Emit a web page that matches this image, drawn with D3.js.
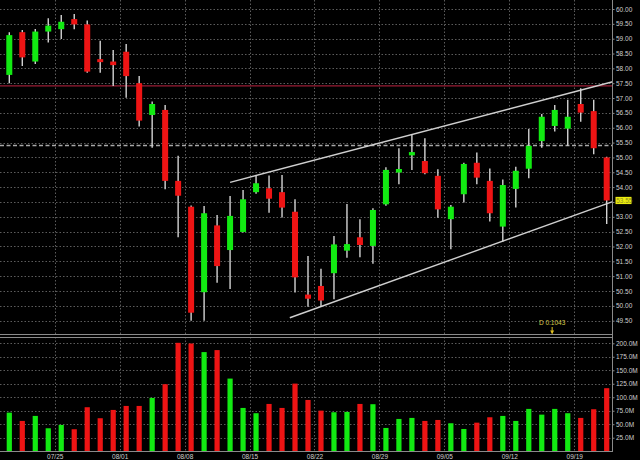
<!DOCTYPE html>
<html><head><meta charset="utf-8">
<script src="https://cdn.jsdelivr.net/npm/d3@7"></script>
<style>html,body{margin:0;padding:0;background:#000;overflow:hidden}svg{display:block}</style>
</head><body>
<svg id="c" width="640" height="460"></svg>
<script>
const openP  = [57.78,59.22,58.23,59.24,59.32,59.66,59.48,58.31,58.23,58.56,57.50,56.43,56.60,54.21,53.34,50.46,52.71,51.88,52.49,53.83,53.96,53.83,53.17,50.38,50.67,51.10,51.86,52.31,52.02,53.42,54.49,55.07,54.88,54.38,52.92,53.76,54.82,54.21,52.67,53.94,54.62,55.55,56.06,55.97,56.80,56.56,55.00];
const highP  = [59.22,59.29,59.33,59.69,59.80,59.83,59.61,58.93,58.62,58.82,57.74,56.88,56.77,55.06,53.38,53.36,53.06,53.70,53.90,54.38,54.39,54.41,53.59,51.68,51.25,52.35,53.43,52.92,53.29,54.67,55.31,55.76,55.65,54.60,53.40,54.82,55.17,54.63,54.26,54.69,55.96,56.46,56.77,56.94,57.33,56.94,55.02];
const lowP   = [57.50,58.08,58.15,58.87,58.99,59.32,57.85,57.85,57.41,57.01,56.04,55.33,53.93,52.31,49.50,49.50,50.78,50.57,52.47,53.78,53.14,52.98,50.45,49.97,49.97,50.22,51.62,51.64,51.42,53.37,54.10,54.58,54.43,52.97,51.91,53.48,54.10,52.84,52.16,53.31,54.30,55.33,55.87,55.39,56.20,55.11,52.76];
const closeP = [59.12,58.37,59.24,59.44,59.57,59.48,57.89,58.21,58.11,57.74,56.24,56.80,54.21,53.71,49.77,53.12,51.34,53.03,53.59,54.13,53.61,53.31,50.96,50.24,50.18,52.07,52.08,52.05,53.23,54.58,54.61,55.18,54.47,53.25,53.34,54.78,54.32,53.12,54.07,54.55,55.39,56.37,56.60,56.37,56.51,55.31,53.55];
const volumeM = [71.5,56.1,65.4,42.5,48.7,40.7,81.5,61.1,76.5,83.9,83.9,98.8,124.2,200.9,199.6,183.7,187.4,134.6,80.2,70.4,87.6,80.2,125.3,95.0,75.2,72.2,72.8,87.6,87.1,43.1,59.8,61.7,56.1,57.9,51.8,41.2,52.9,62.9,65.4,56.1,78.4,67.8,78.4,70.4,61.7,77.8,116.8];
const dateLabels = ["07/25","08/01","08/08","08/15","08/22","08/29","09/05","09/12","09/19"];
const dateIndex  = [4,9,14,19,24,29,34,39,44];
const priceTicks = [49.5,50,50.5,51,51.5,52,52.5,53,53.5,54,54.5,55,55.5,56,56.5,57,57.5,58,58.5,59,59.5,60];
const volTicks = [25,50,75,100,125,150,175,200];
const channelUpper = [[17.0,54.16],[46.46,57.55]];
const channelLower = [[21.6,49.60],[46.46,53.51]];
const redLevel = 57.41;
const dashLevel = 55.40;
const lastPrice = 53.55;
const note = {text:"D 0.1043", index:41.8};

const svg = d3.select("#c");
const FONT = "'Liberation Sans', Arial, sans-serif";
const x = d3.scaleLinear().domain([0,46]).range([9.3,606.7]);
const y = d3.scaleLinear().domain([49.5,60]).range([320.7,9]);
const yv = d3.scaleLinear().domain([0,200]).range([451.2,343.3]);
const AX = 612.5;
const green = "#12ea12", red = "#ee1414";
const idx = d3.range(openP.length);
const col = i => closeP[i] >= openP[i] ? green : red;

svg.append("rect").attr("width",640).attr("height",460).attr("fill","#000");

// gridlines
const grid = svg.append("g").attr("stroke","#5c5c5c").attr("stroke-dasharray","1.5,2").attr("stroke-width",1);
priceTicks.forEach(t => grid.append("line").attr("x1",0).attr("x2",AX).attr("y1",Math.round(y(t))+0.5).attr("y2",Math.round(y(t))+0.5));
dateIndex.forEach(i => {
  const gx = Math.round(x(i-0.5))+0.5;
  grid.append("line").attr("x1",gx).attr("x2",gx).attr("y1",0).attr("y2",334);
  grid.append("line").attr("x1",gx).attr("x2",gx).attr("y1",337).attr("y2",451);
});
volTicks.forEach(t => grid.append("line").attr("x1",0).attr("x2",AX).attr("y1",Math.round(yv(t))+0.5).attr("y2",Math.round(yv(t))+0.5));

// horizontal reference lines
svg.append("line").attr("x1",0).attr("x2",AX).attr("y1",y(redLevel)).attr("y2",y(redLevel))
  .attr("stroke","#9a1c34").attr("stroke-width",1.2);
svg.append("line").attr("x1",0).attr("x2",AX).attr("y1",y(dashLevel)).attr("y2",y(dashLevel))
  .attr("stroke","#a8a8a8").attr("stroke-width",1.5).attr("stroke-dasharray","4,2.5");

// channel lines
const lineGen = d3.line().x(d=>x(d[0])).y(d=>y(d[1]));
[channelUpper, channelLower].forEach(c => svg.append("path").attr("d",lineGen(c))
  .attr("stroke","#cfcfcf").attr("stroke-width",1.4).attr("fill","none"));

// candles
const cg = svg.append("g");
cg.selectAll("line.w").data(idx).join("line")
  .attr("x1",i=>x(i)).attr("x2",i=>x(i)).attr("y1",i=>y(highP[i])).attr("y2",i=>y(lowP[i]))
  .attr("stroke","#d4d4d4").attr("stroke-width",1.4);
cg.selectAll("rect.b").data(idx).join("rect")
  .attr("x",i=>x(i)-3).attr("width",6)
  .attr("y",i=>y(Math.max(openP[i],closeP[i])))
  .attr("height",i=>Math.max(2,Math.abs(y(openP[i])-y(closeP[i]))))
  .attr("fill",col);

// volume bars
svg.append("g").selectAll("rect").data(idx).join("rect")
  .attr("x",i=>x(i)-2.6).attr("width",5.2)
  .attr("y",i=>yv(volumeM[i])).attr("height",i=>yv(0)-yv(volumeM[i]))
  .attr("fill",col);

// panel borders
const bord = svg.append("g").attr("stroke","#8a8a8a").attr("stroke-width",1).attr("fill","none");
bord.append("line").attr("x1",0).attr("x2",AX).attr("y1",334.5).attr("y2",334.5);
bord.append("line").attr("x1",0).attr("x2",AX).attr("y1",337.5).attr("y2",337.5);
bord.append("line").attr("x1",0).attr("x2",AX).attr("y1",451.5).attr("y2",451.5);
bord.append("line").attr("x1",AX).attr("x2",AX).attr("y1",0).attr("y2",452);

// axes
function styleAxis(g){
  g.select(".domain").remove();
  g.selectAll(".tick line").attr("stroke","#8a8a8a");
  g.selectAll(".tick text").attr("fill","#cfcfcf").attr("font-family",FONT).attr("font-size","6.5px");
}
const yAxisG = svg.append("g").attr("transform",`translate(${AX},0)`)
  .call(d3.axisRight(y).tickValues(priceTicks).tickFormat(d3.format(".2f")).tickSize(2).tickPadding(1.5))
  .call(styleAxis);
// the last-price flag covers the tick label nearest to it
yAxisG.selectAll(".tick").filter(d => Math.abs(d - lastPrice) < 0.2).select("text").remove();
svg.append("g").attr("transform",`translate(${AX},0)`)
  .call(d3.axisRight(yv).tickValues(volTicks).tickFormat(d=>d3.format(".1f")(d)+"M").tickSize(2).tickPadding(1.5))
  .call(styleAxis);
svg.append("g").attr("transform","translate(0,451)")
  .call(d3.axisBottom(x).tickValues(dateIndex.map(i=>i-0.5)).tickFormat((d,k)=>dateLabels[k]).tickSize(0).tickPadding(3))
  .call(styleAxis);

// last price label
const ly = y(lastPrice);
svg.append("rect").attr("x",615.5).attr("y",ly-3.6).attr("width",16).attr("height",7.2).attr("fill","#ecec10");
svg.append("text").attr("x",616.2).attr("y",ly).attr("dy","0.34em").attr("fill","#8c8c20")
  .attr("font-family",FONT).attr("font-size","6.5px").text(d3.format(".2f")(lastPrice));

// annotation
const nx = x(note.index);
svg.append("text").attr("x",nx).attr("y",324.5).attr("text-anchor","middle").attr("fill","#d8c848")
  .attr("font-family",FONT).attr("font-size","6.5px").text(note.text);
svg.append("line").attr("x1",nx).attr("x2",nx).attr("y1",327).attr("y2",333.5).attr("stroke","#e0c020").attr("stroke-width",1);
svg.append("path").attr("d",`M${nx-2},${330.5}L${nx+2},${330.5}L${nx},${334}Z`).attr("fill","#e0c020");
</script>
</body></html>
